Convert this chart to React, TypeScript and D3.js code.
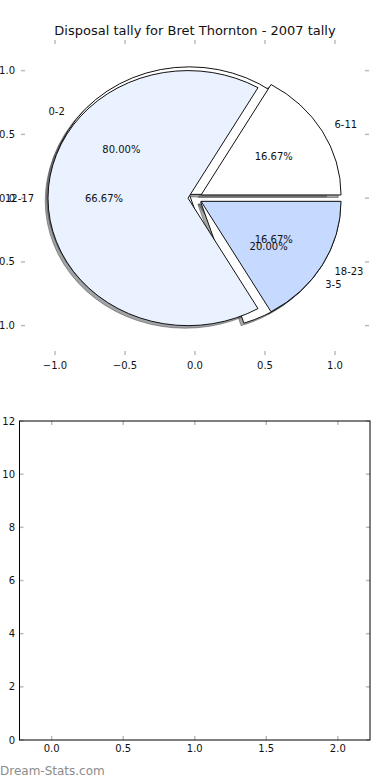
import * as d3 from "d3";

const title = "Disposal tally for Bret Thornton - 2007 tally";
const pieALabels = ["0-2", "3-5"];
const pieAValues = [4, 1];
const pieAColors = ["#ffffff", "#ffffff"];
const pieBLabels = ["6-11", "12-17", "18-23"];
const pieBValues = [1, 4, 1];
const pieBColors = ["#ffffff", "#eaf1ff", "#c6d9ff"];
const explode = 0.05;
const pieTicks = [-1, -0.5, 0, 0.5, 1];
const barXTicks = [0, 0.5, 1, 1.5, 2];
const barYTicks = [0, 2, 4, 6, 8, 10, 12];

const font = "DejaVu Sans, sans-serif";
const tickColor = "#bbbbbb";

const fmt1 = (v: number) => (v < 0 ? "\u2212" : "") + d3.format(".1f")(Math.abs(v));

type Slice = { label: string; color: string; pct: number; ox: number; oy: number; mid: number; d: string };

export default function App() {
  // top (pie) axes
  const px = d3.scaleLinear().domain([-1.243, 1.243]).range([21, 369]);
  const py = d3.scaleLinear().domain([-1.23, 1.24]).range([355, 40]);
  const kx = px(1) - px(0);
  const ky = py(0) - py(1);

  // bottom axes
  const bx = d3.scaleLinear().domain([-0.225, 2.225]).range([19.5, 370]);
  const by = d3.scaleLinear().domain([0, 12]).range([740, 421]);

  const arc = d3.arc<d3.PieArcDatum<number>>().innerRadius(0).outerRadius(1);
  const pie = d3.pie<number>().sort(null).startAngle(Math.PI / 2).endAngle(Math.PI / 2 - 2 * Math.PI);

  const build = (values: number[], labels: string[], colors: string[]): Slice[] => {
    const total = d3.sum(values);
    return pie(values).map((a, i) => {
      const mid = (a.startAngle + a.endAngle) / 2;
      return {
        label: labels[i],
        color: colors[i],
        pct: (values[i] / total) * 100,
        ox: explode * Math.sin(mid),
        oy: explode * Math.cos(mid),
        mid,
        d: arc(a) || "",
      };
    });
  };

  const pieA = build(pieAValues, pieALabels, pieAColors);
  const pieB = build(pieBValues, pieBLabels, pieBColors);
  const all = [...pieA, ...pieB];

  const shade = (c: string) => {
    const r = d3.rgb(c);
    return `rgba(${Math.round(r.r * 0.3)},${Math.round(r.g * 0.3)},${Math.round(r.b * 0.3)},0.5)`;
  };

  const wedgeTransform = (s: Slice, dx = 0, dy = 0) =>
    `translate(${px(s.ox + dx)},${py(s.oy + dy)}) scale(${kx},${ky})`;

  return (
    <svg width={390} height={780} style={{ position: "absolute", left: 0, top: 0 }} fontFamily={font}>
      <rect width={390} height={780} fill="#fff" />
      <text x={195} y={34.5} textAnchor="middle" fontSize={13} fill="#111">{title}</text>

      {/* pie axes ticks */}
      {pieTicks.map((t) => (
        <g key={"px" + t}>
          <line x1={px(t)} x2={px(t)} y1={40} y2={44} stroke={tickColor} strokeWidth={1.5} />
          <line x1={px(t)} x2={px(t)} y1={355} y2={351} stroke={tickColor} strokeWidth={1.5} />
          <text x={px(t)} y={369} textAnchor="middle" fontSize={10} fill="#111">{fmt1(t)}</text>
        </g>
      ))}
      {pieTicks.map((t) => (
        <g key={"py" + t}>
          <line x1={21} x2={25} y1={py(t)} y2={py(t)} stroke={tickColor} strokeWidth={1.5} />
          <line x1={369} x2={365} y1={py(t)} y2={py(t)} stroke={tickColor} strokeWidth={1.5} />
          <text x={15} y={py(t)} dy="0.35em" textAnchor="end" fontSize={10} fill="#111">{fmt1(t)}</text>
        </g>
      ))}

      {/* shadows under every wedge */}
      {all.map((s, i) => (
        <path key={"sh" + i} d={s.d} transform={wedgeTransform(s, -0.02, -0.02)}
          fill={shade(s.color)} stroke={shade(s.color)} strokeWidth={1} vectorEffect="non-scaling-stroke" />
      ))}
      {all.map((s, i) => (
        <path key={"w" + i} d={s.d} transform={wedgeTransform(s)}
          fill={s.color} stroke="#111" strokeWidth={1} vectorEffect="non-scaling-stroke" />
      ))}
      {all.map((s, i) => {
        const lx = s.ox + 1.1 * Math.sin(s.mid);
        const ly = s.oy + 1.1 * Math.cos(s.mid);
        const tx = s.ox + 0.6 * Math.sin(s.mid);
        const ty = s.oy + 0.6 * Math.cos(s.mid);
        return (
          <g key={"t" + i} fontSize={10} fill="#111">
            <text x={px(lx)} y={py(ly)} dy="0.35em" textAnchor={lx < 0 ? "end" : "start"}>{s.label}</text>
            <text x={px(tx)} y={py(ty)} dy="0.35em" textAnchor="middle">{d3.format(".2f")(s.pct) + "%"}</text>
          </g>
        );
      })}

      {/* bottom empty axes */}
      {barXTicks.map((t) => (
        <g key={"bx" + t}>
          <line x1={bx(t)} x2={bx(t)} y1={740} y2={736} stroke={tickColor} strokeWidth={1.5} />
          <line x1={bx(t)} x2={bx(t)} y1={421} y2={425} stroke={tickColor} strokeWidth={1.5} />
          <text x={bx(t)} y={752} textAnchor="middle" fontSize={10} fill="#111">{d3.format(".1f")(t)}</text>
        </g>
      ))}
      {barYTicks.map((t) => (
        <g key={"by" + t}>
          <line x1={19.5} x2={23.5} y1={by(t)} y2={by(t)} stroke={tickColor} strokeWidth={1.5} />
          <line x1={370} x2={366} y1={by(t)} y2={by(t)} stroke={tickColor} strokeWidth={1.5} />
          <text x={15} y={by(t)} dy="0.35em" textAnchor="end" fontSize={10} fill="#111">{t}</text>
        </g>
      ))}
      <rect x={19.5} y={421} width={370 - 19.5} height={740 - 421} fill="none" stroke="#000" strokeWidth={1} />

      <text x={0} y={775} fontSize={12} fill="#8c8c8c">Dream-Stats.com</text>
    </svg>
  );
}
